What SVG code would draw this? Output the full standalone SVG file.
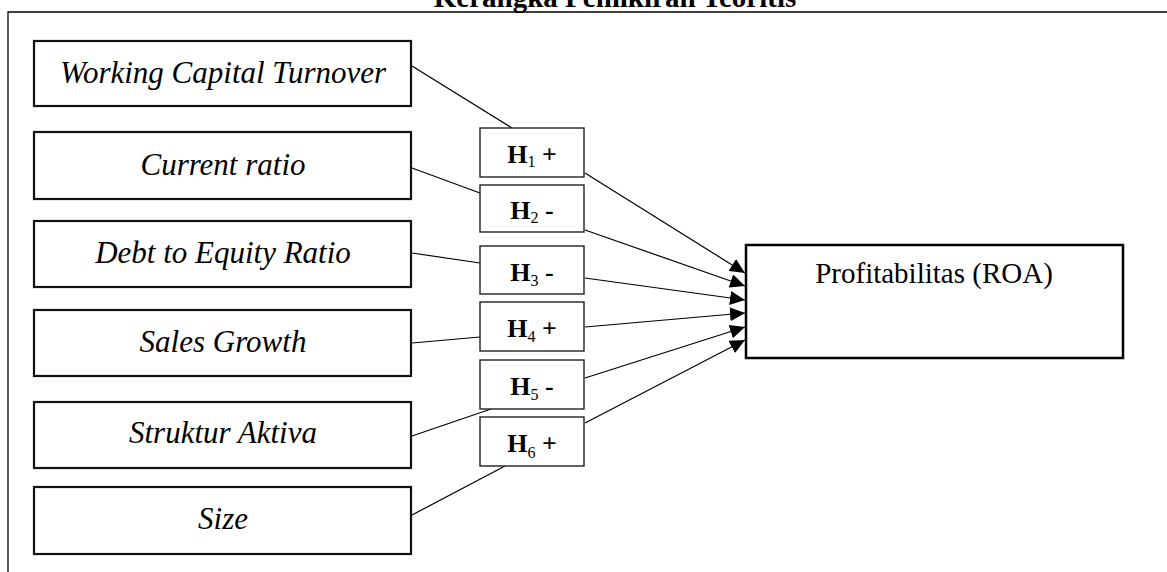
<svg xmlns="http://www.w3.org/2000/svg" width="1167" height="572" viewBox="0 0 1167 572">
<style>
.frame{fill:none;stroke:#000;stroke-width:1.3}
.var{fill:#fff;stroke:#111;stroke-width:2.2}
.hyp{fill:#fff;stroke:#222;stroke-width:1.4}
.lbl{font-family:"Liberation Serif","Times New Roman",serif;font-size:31px;font-style:italic;fill:#000;text-anchor:middle}
.h{font-family:"Liberation Serif","Times New Roman",serif;font-size:26px;font-weight:bold;fill:#000;text-anchor:middle}
.sub{font-size:16px;font-weight:normal}
.title{font-family:"Liberation Serif","Times New Roman",serif;font-size:29px;font-weight:bold;fill:#000;text-anchor:middle}
.con{stroke:#000;stroke-width:1.2;fill:none}
.arr{stroke:#000;stroke-width:1.2;fill:none;marker-end:url(#ah)}
</style>
<defs>
<marker id="ah" markerUnits="userSpaceOnUse" markerWidth="16" markerHeight="14" refX="15" refY="7" orient="auto">
<path d="M0,0 L15,7 L0,14 z" fill="#000"/>
</marker>
</defs>
<rect width="1167" height="572" fill="#fff"/>
<text class="title" x="615" y="7">Kerangka Pemikiran Teoritis</text>
<path class="frame" d="M8,572 V12 H1167"/>
<g id="connectors">
<line class="con" x1="412" y1="66" x2="512" y2="128"/>
<line class="arr" x1="585" y1="173" x2="745" y2="273"/>
<line class="con" x1="412" y1="168" x2="480" y2="193"/>
<line class="arr" x1="585" y1="230" x2="745" y2="286"/>
<line class="con" x1="412" y1="253" x2="480" y2="263"/>
<line class="arr" x1="585" y1="278" x2="745" y2="300"/>
<line class="con" x1="412" y1="343" x2="480" y2="337"/>
<line class="arr" x1="585" y1="327" x2="745" y2="313"/>
<line class="con" x1="412" y1="436" x2="491" y2="409"/>
<line class="arr" x1="585" y1="378" x2="745" y2="327"/>
<line class="con" x1="412" y1="515" x2="505" y2="466"/>
<line class="arr" x1="585" y1="423" x2="745" y2="340"/>
</g>
<g id="wct"><rect class="var" x="34" y="41" width="377" height="65"/><text class="lbl" x="223" y="83">Working Capital Turnover</text></g>
<g id="cr"><rect class="var" x="34" y="132" width="377" height="67"/><text class="lbl" x="223" y="175">Current ratio</text></g>
<g id="der"><rect class="var" x="34" y="221" width="377" height="66"/><text class="lbl" x="223" y="263">Debt to Equity Ratio</text></g>
<g id="sg"><rect class="var" x="34" y="310" width="377" height="66"/><text class="lbl" x="223" y="352">Sales Growth</text></g>
<g id="sa"><rect class="var" x="34" y="402" width="377" height="66"/><text class="lbl" x="223" y="443">Struktur Aktiva</text></g>
<g id="size"><rect class="var" x="34" y="487" width="377" height="67"/><text class="lbl" x="223" y="529">Size</text></g>
<g id="h1"><rect class="hyp" x="480" y="128" width="104" height="49"/><text class="h" x="532" y="163">H<tspan class="sub" dy="4">1</tspan><tspan dy="-4"> +</tspan></text></g>
<g id="h2"><rect class="hyp" x="480" y="185" width="104" height="47"/><text class="h" x="532" y="219">H<tspan class="sub" dy="4">2</tspan><tspan dy="-4"> -</tspan></text></g>
<g id="h3"><rect class="hyp" x="480" y="246" width="104" height="48"/><text class="h" x="532" y="281">H<tspan class="sub" dy="5">3</tspan><tspan dy="-5"> -</tspan></text></g>
<g id="h4"><rect class="hyp" x="480" y="302" width="104" height="49"/><text class="h" x="532" y="337">H<tspan class="sub" dy="5">4</tspan><tspan dy="-5"> +</tspan></text></g>
<g id="h5"><rect class="hyp" x="480" y="360" width="104" height="49"/><text class="h" x="532" y="395">H<tspan class="sub" dy="5">5</tspan><tspan dy="-5"> -</tspan></text></g>
<g id="h6"><rect class="hyp" x="480" y="417" width="104" height="49"/><text class="h" x="532" y="452">H<tspan class="sub" dy="6">6</tspan><tspan dy="-6"> +</tspan></text></g>
<g id="roa"><rect x="746" y="245" width="377" height="113" fill="#fff" stroke="#000" stroke-width="2.5"/><text x="934" y="283" font-family="'Liberation Serif','Times New Roman',serif" font-size="29" text-anchor="middle" fill="#000">Profitabilitas (ROA)</text></g>
</svg>
